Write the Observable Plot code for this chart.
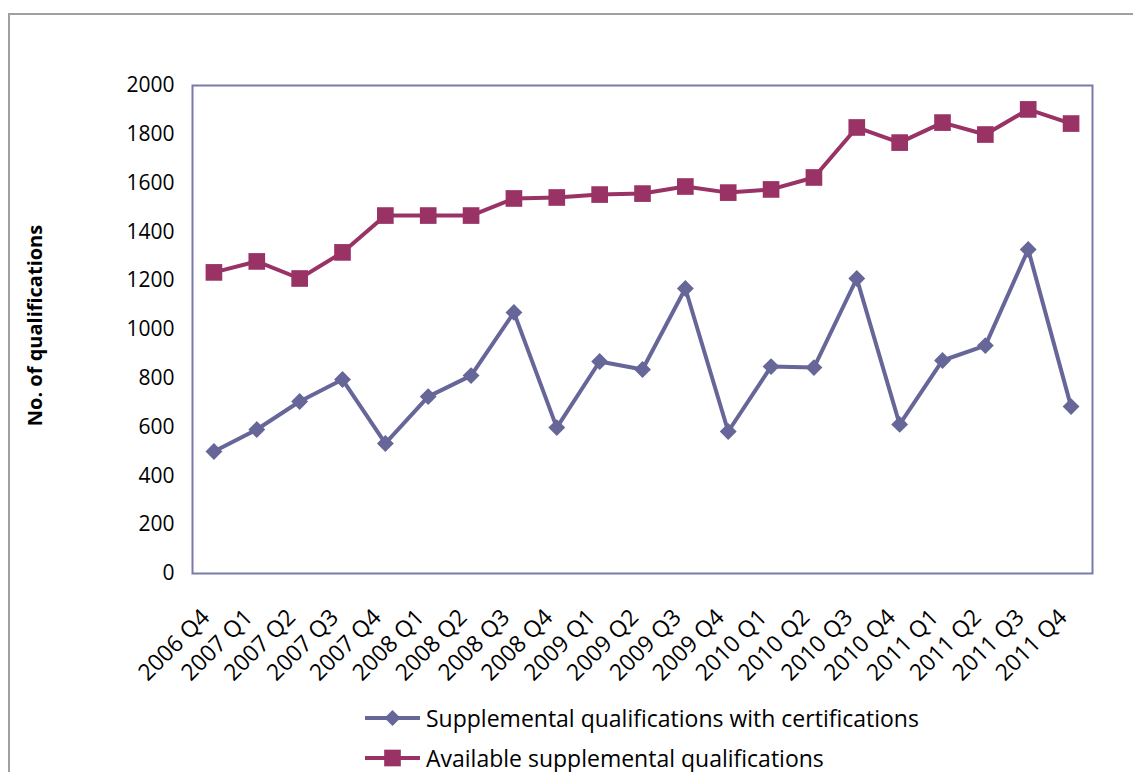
<!DOCTYPE html>
<html>
<head>
<meta charset="utf-8">
<script src="https://cdn.jsdelivr.net/npm/d3@7"></script>
<script src="https://cdn.jsdelivr.net/npm/@observablehq/plot@0.6"></script>
<style>
  html, body { margin: 0; padding: 0; background: #fff; overflow: hidden; }
  body { width: 1133px; height: 772px; position: relative; font-family: "Open Sans", sans-serif; }
  #frame { position: absolute; left: 8px; top: 13px; width: 1200px; height: 800px; border: 2px solid #a0a0a0; box-sizing: border-box; }
  #chart { position: absolute; left: 0; top: 0; }
  #legend { position: absolute; left: 0; top: 698px; width: 1133px; }
  .row { position: absolute; left: 365px; height: 30px; display: flex; align-items: center; }
  .row span { font-size: 23px; color: #000; margin-left: 6px; }
</style>
</head>
<body>
<div id="frame"></div>
<div id="chart"></div>
<div id="legend"></div>
<script>
const quarters = ["2006 Q4","2007 Q1","2007 Q2","2007 Q3","2007 Q4","2008 Q1","2008 Q2","2008 Q3","2008 Q4","2009 Q1","2009 Q2","2009 Q3","2009 Q4","2010 Q1","2010 Q2","2010 Q3","2010 Q4","2011 Q1","2011 Q2","2011 Q3","2011 Q4"];
const certified = [500, 590, 705, 795, 533, 725, 811, 1070, 598, 869, 836, 1168, 582, 848, 844, 1209, 611, 873, 934, 1328, 684];
const available = [1234, 1279, 1209, 1316, 1467, 1467, 1467, 1537, 1541, 1553, 1557, 1586, 1561, 1574, 1623, 1828, 1766, 1848, 1799, 1902, 1844];
const yTicks = [0, 200, 400, 600, 800, 1000, 1200, 1400, 1600, 1800, 2000];
const seriesNames = ["Supplemental qualifications with certifications", "Available supplemental qualifications"];
const colors = ["#666699", "#993366"];

const s1 = quarters.map((q, i) => ({q, v: certified[i]}));
const s2 = quarters.map((q, i) => ({q, v: available[i]}));

const plot = Plot.plot({
  width: 1133,
  height: 690,
  marginLeft: 192,
  marginRight: 41,
  marginTop: 85,
  marginBottom: 117,
  style: { fontFamily: "Open Sans, sans-serif", background: "transparent" },
  x: { type: "point", domain: quarters, padding: 0.5, round: false },
  y: { domain: [0, 2000] },
  marks: [
    Plot.axisY({ ticks: yTicks, tickFormat: d => String(d), tickSize: 0, tickPadding: 18, fontSize: 21, label: null }),
    Plot.axisX({ tickSize: 0, tickRotate: -45, tickPadding: 40, dx: -8, fontSize: 23, label: null }),
    Plot.frame({ stroke: "#7a7aaa", strokeWidth: 2 }),
    Plot.text(["No. of qualifications"], { frameAnchor: "left", dx: -157, dy: -4, rotate: -90, textAnchor: "middle", fontWeight: "bold", fontSize: 20 }),
    Plot.line(s1, { x: "q", y: "v", stroke: colors[0], strokeWidth: 4 }),
    Plot.dot(s1, { x: "q", y: "v", symbol: "diamond2", r: 7.6, fill: colors[0], stroke: "none" }),
    Plot.line(s2, { x: "q", y: "v", stroke: colors[1], strokeWidth: 4 }),
    Plot.dot(s2, { x: "q", y: "v", symbol: "square", r: 9.4, fill: colors[1], stroke: "none" })
  ]
});
document.getElementById("chart").appendChild(plot);

const legend = document.getElementById("legend");
const symbols = [d3.symbolDiamond2, d3.symbolSquare];
const sizes = [Math.PI * 7.6 * 7.6 * 0.9, Math.PI * 9.4 * 9.4];
seriesNames.forEach((name, i) => {
  const row = document.createElement("div");
  row.className = "row";
  row.style.top = (i * 40 + 5) + "px";
  const svg = d3.create("svg").attr("width", 55).attr("height", 30);
  svg.append("line").attr("x1", 0).attr("x2", 55).attr("y1", 15).attr("y2", 15)
    .attr("stroke", colors[i]).attr("stroke-width", 4);
  svg.append("path").attr("d", d3.symbol(symbols[i], sizes[i])())
    .attr("transform", "translate(27.5,15)").attr("fill", colors[i]);
  row.appendChild(svg.node());
  const span = document.createElement("span");
  span.textContent = name;
  row.appendChild(span);
  legend.appendChild(row);
});
</script>
</body>
</html>
